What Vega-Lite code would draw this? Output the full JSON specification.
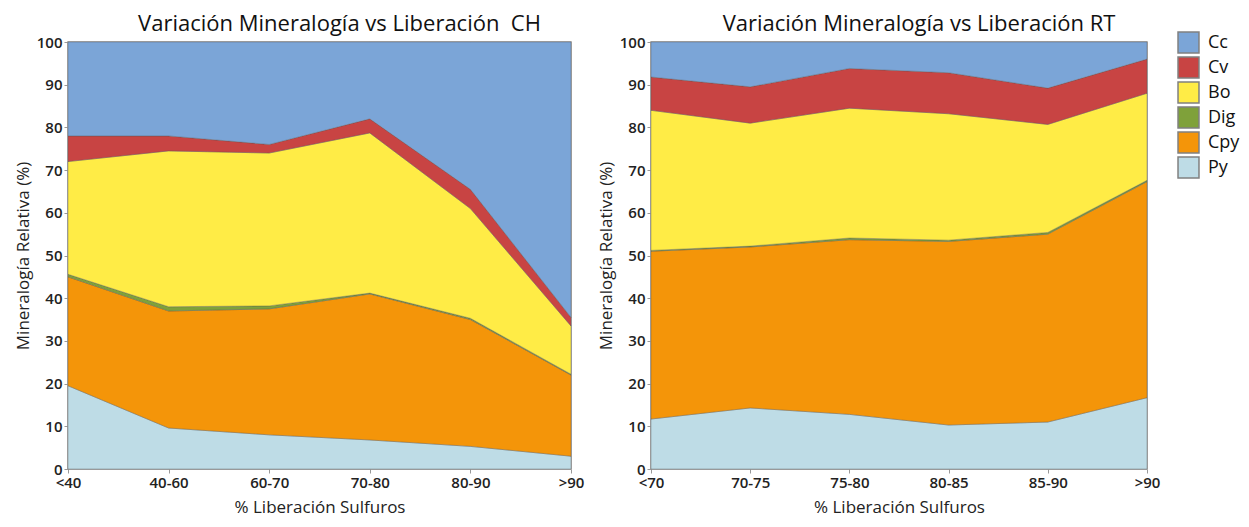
{
  "$schema": "https://vega.github.io/schema/vega-lite/v6.json",
  "background": "white",
  "padding": {"left": 13, "top": 12, "right": 2, "bottom": 2},
  "datasets": {
    "ch": [
      {"lib": "<40", "m": "Py", "v": 19.5}, {"lib": "<40", "m": "Cpy", "v": 25.5}, {"lib": "<40", "m": "Dig", "v": 0.6}, {"lib": "<40", "m": "Bo", "v": 26.4}, {"lib": "<40", "m": "Cv", "v": 6}, {"lib": "<40", "m": "Cc", "v": 22},
      {"lib": "40-60", "m": "Py", "v": 9.6}, {"lib": "40-60", "m": "Cpy", "v": 27.4}, {"lib": "40-60", "m": "Dig", "v": 1}, {"lib": "40-60", "m": "Bo", "v": 36.5}, {"lib": "40-60", "m": "Cv", "v": 3.5}, {"lib": "40-60", "m": "Cc", "v": 22},
      {"lib": "60-70", "m": "Py", "v": 8}, {"lib": "60-70", "m": "Cpy", "v": 29.5}, {"lib": "60-70", "m": "Dig", "v": 0.7}, {"lib": "60-70", "m": "Bo", "v": 35.8}, {"lib": "60-70", "m": "Cv", "v": 2}, {"lib": "60-70", "m": "Cc", "v": 24},
      {"lib": "70-80", "m": "Py", "v": 6.8}, {"lib": "70-80", "m": "Cpy", "v": 34.2}, {"lib": "70-80", "m": "Dig", "v": 0.2}, {"lib": "70-80", "m": "Bo", "v": 37.5}, {"lib": "70-80", "m": "Cv", "v": 3.3}, {"lib": "70-80", "m": "Cc", "v": 18},
      {"lib": "80-90", "m": "Py", "v": 5.3}, {"lib": "80-90", "m": "Cpy", "v": 29.7}, {"lib": "80-90", "m": "Dig", "v": 0.3}, {"lib": "80-90", "m": "Bo", "v": 25.7}, {"lib": "80-90", "m": "Cv", "v": 4.5}, {"lib": "80-90", "m": "Cc", "v": 34.5},
      {"lib": ">90", "m": "Py", "v": 3}, {"lib": ">90", "m": "Cpy", "v": 19}, {"lib": ">90", "m": "Dig", "v": 0.2}, {"lib": ">90", "m": "Bo", "v": 11.3}, {"lib": ">90", "m": "Cv", "v": 2}, {"lib": ">90", "m": "Cc", "v": 64.5}
    ],
    "rt": [
      {"lib": "<70", "m": "Py", "v": 11.7}, {"lib": "<70", "m": "Cpy", "v": 39.3}, {"lib": "<70", "m": "Dig", "v": 0.2}, {"lib": "<70", "m": "Bo", "v": 32.8}, {"lib": "<70", "m": "Cv", "v": 7.8}, {"lib": "<70", "m": "Cc", "v": 8.2},
      {"lib": "70-75", "m": "Py", "v": 14.3}, {"lib": "70-75", "m": "Cpy", "v": 37.7}, {"lib": "70-75", "m": "Dig", "v": 0.2}, {"lib": "70-75", "m": "Bo", "v": 28.8}, {"lib": "70-75", "m": "Cv", "v": 8.5}, {"lib": "70-75", "m": "Cc", "v": 10.5},
      {"lib": "75-80", "m": "Py", "v": 12.8}, {"lib": "75-80", "m": "Cpy", "v": 40.9}, {"lib": "75-80", "m": "Dig", "v": 0.4}, {"lib": "75-80", "m": "Bo", "v": 30.4}, {"lib": "75-80", "m": "Cv", "v": 9.3}, {"lib": "75-80", "m": "Cc", "v": 6.2},
      {"lib": "80-85", "m": "Py", "v": 10.3}, {"lib": "80-85", "m": "Cpy", "v": 43}, {"lib": "80-85", "m": "Dig", "v": 0.3}, {"lib": "80-85", "m": "Bo", "v": 29.6}, {"lib": "80-85", "m": "Cv", "v": 9.6}, {"lib": "80-85", "m": "Cc", "v": 7.2},
      {"lib": "85-90", "m": "Py", "v": 11}, {"lib": "85-90", "m": "Cpy", "v": 44}, {"lib": "85-90", "m": "Dig", "v": 0.4}, {"lib": "85-90", "m": "Bo", "v": 25.3}, {"lib": "85-90", "m": "Cv", "v": 8.5}, {"lib": "85-90", "m": "Cc", "v": 10.8},
      {"lib": ">90", "m": "Py", "v": 16.7}, {"lib": ">90", "m": "Cpy", "v": 50.6}, {"lib": ">90", "m": "Dig", "v": 0.3}, {"lib": ">90", "m": "Bo", "v": 20.4}, {"lib": ">90", "m": "Cv", "v": 8}, {"lib": ">90", "m": "Cc", "v": 4}
    ]
  },
  "hconcat": [
    {
      "width": 503,
      "height": 427,
      "title": {"text": "Variación Mineralogía vs Liberación\u00a0 CH", "dx": 20},
      "data": {"name": "ch"},
      "transform": [{"calculate": "indexof(['Py','Cpy','Dig','Bo','Cv','Cc'], datum.m)", "as": "k"}],
      "mark": {"type": "area", "stroke": "#555", "strokeWidth": 0.6, "strokeOpacity": 0.6},
      "encoding": {
        "x": {"field": "lib", "type": "nominal", "sort": null, "scale": {"type": "point", "padding": 0}, "axis": {"title": "% Liberación Sulfuros", "labelAngle": 0}},
        "y": {"field": "v", "type": "quantitative", "stack": "zero", "scale": {"domain": [0, 100], "nice": false}, "axis": {"title": "Mineralogía Relativa (%)", "values": [0,10,20,30,40,50,60,70,80,90,100]}},
        "color": {"field": "m", "type": "nominal", "scale": {"domain": ["Cc","Cv","Bo","Dig","Cpy","Py"], "range": ["#7BA5D7","#C84443","#FFEC46","#7FA13A","#F49509","#BEDCE6"]},
          "legend": {"title": null, "orient": "none", "legendX": 1109, "legendY": -11, "symbolType": "square", "symbolSize": 440, "symbolStrokeColor": "#808080", "symbolStrokeWidth": 1.5, "symbolOpacity": 1, "labelFontSize": 18, "labelFont": "Open Sans", "labelColor": "#111", "rowPadding": -2, "labelOffset": 8, "padding": 0}},
        "order": {"field": "k", "type": "quantitative", "sort": "ascending"}
      }
    },
    {
      "width": 496,
      "height": 427,
      "title": {"text": "Variación Mineralogía vs Liberación RT", "dx": 20},
      "data": {"name": "rt"},
      "transform": [{"calculate": "indexof(['Py','Cpy','Dig','Bo','Cv','Cc'], datum.m)", "as": "k"}],
      "mark": {"type": "area", "stroke": "#555", "strokeWidth": 0.6, "strokeOpacity": 0.6},
      "encoding": {
        "x": {"field": "lib", "type": "nominal", "sort": null, "scale": {"type": "point", "padding": 0}, "axis": {"title": "% Liberación Sulfuros", "labelAngle": 0}},
        "y": {"field": "v", "type": "quantitative", "stack": "zero", "scale": {"domain": [0, 100], "nice": false}, "axis": {"title": "Mineralogía Relativa (%)", "values": [0,10,20,30,40,50,60,70,80,90,100]}},
        "color": {"field": "m", "type": "nominal", "scale": {"domain": ["Cc","Cv","Bo","Dig","Cpy","Py"], "range": ["#7BA5D7","#C84443","#FFEC46","#7FA13A","#F49509","#BEDCE6"]},
          "legend": {"title": null, "orient": "none", "legendX": 1109, "legendY": -11, "symbolType": "square", "symbolSize": 440, "symbolStrokeColor": "#808080", "symbolStrokeWidth": 1.5, "symbolOpacity": 1, "labelFontSize": 18, "labelFont": "Open Sans", "labelColor": "#111", "rowPadding": -2, "labelOffset": 8, "padding": 0}},
        "order": {"field": "k", "type": "quantitative", "sort": "ascending"}
      }
    }
  ],
  "spacing": 11,
  "config": {
    "font": "Open Sans",
    "view": {"stroke": "#8c8c8c", "strokeWidth": 1.5},
    "title": {"font": "Open Sans", "fontSize": 22, "fontWeight": "normal", "color": "#111", "offset": -1, "anchor": "middle"},
    "axis": {"labelFont": "Open Sans", "labelFontSize": 15, "labelColor": "#222", "labelFontWeight": 600, "tickColor": "#999", "tickSize": 4, "domain": false, "grid": false, "titleFont": "Open Sans", "titleFontSize": 17, "titleFontWeight": "normal", "titleColor": "#222", "labelPadding": 2},
    "axisY": {"titlePadding": 4},
    "axisX": {"titlePadding": 9}
  }
}
